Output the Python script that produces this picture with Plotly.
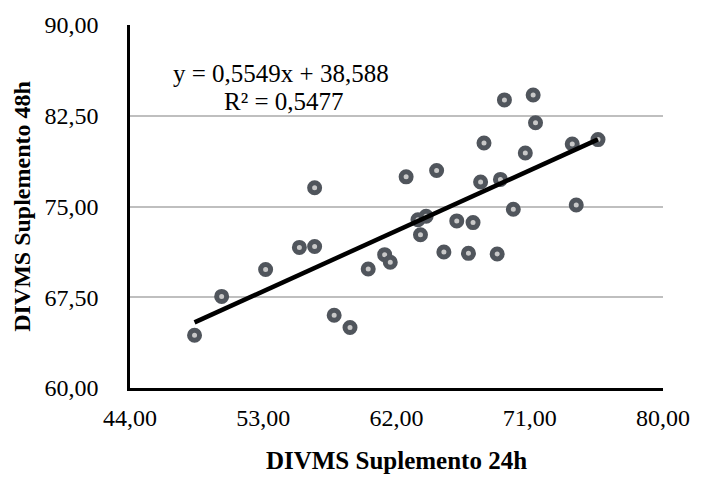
import plotly.graph_objects as go

# Data
x_24h = [48.36, 50.19, 53.16, 55.44, 56.47, 56.47, 57.79, 58.86, 60.09, 61.20,
         61.58, 62.65, 63.62, 63.45, 64.00, 64.71, 65.20, 66.07, 67.17, 66.86,
         67.68, 67.91, 68.80, 69.02, 69.29, 69.89, 70.70, 71.23, 71.39, 73.87,
         74.14, 75.61]
y_48h = [64.36, 67.57, 69.79, 71.62, 71.70, 76.55, 66.01, 65.00, 69.84, 71.02,
         70.39, 77.45, 72.66, 73.90, 74.20, 77.98, 71.24, 73.81, 73.67, 71.13,
         77.02, 80.25, 71.08, 77.24, 83.81, 74.77, 79.42, 84.22, 81.92, 80.16,
         75.13, 80.53]

slope = 0.5549
intercept = 38.588
r2 = 0.5477

x_ticks = [44, 53, 62, 71, 80]
x_tick_labels = ["44,00", "53,00", "62,00", "71,00", "80,00"]
y_ticks = [60, 67.5, 75, 82.5, 90]
y_tick_labels = ["60,00", "67,50", "75,00", "82,50", "90,00"]

FONT = "Liberation Serif, Times New Roman, serif"

fig = go.Figure()

fig.add_trace(go.Scatter(
    x=x_24h, y=y_48h, mode="markers",
    marker=dict(symbol="circle", size=10, color="#c8c8c8",
                line=dict(color="#50555c", width=5)),
    showlegend=False, hoverinfo="x+y",
))

x_line = [min(x_24h), max(x_24h)]
y_line = [slope * v + intercept for v in x_line]
fig.add_trace(go.Scatter(
    x=x_line, y=y_line, mode="lines",
    line=dict(color="#000000", width=4.5),
    showlegend=False, hoverinfo="skip",
))

eq_line1 = ("y = " + f"{slope:.4f}".replace(".", ",") + "x + "
            + f"{intercept:.3f}".replace(".", ","))
eq_line2 = "R² = " + f"{r2:.4f}".replace(".", ",")

fig.add_annotation(
    text=eq_line1, xref="paper", yref="paper", x=0.283, y=0.866,
    xanchor="center", yanchor="middle", showarrow=False,
    font=dict(family=FONT, size=25, color="#000000"),
)
fig.add_annotation(
    text=eq_line2, xref="paper", yref="paper", x=0.288, y=0.789,
    xanchor="center", yanchor="middle", showarrow=False,
    font=dict(family=FONT, size=25, color="#000000"),
)

fig.update_layout(
    width=702, height=483,
    margin=dict(l=130, r=34, t=23, b=95),
    paper_bgcolor="white", plot_bgcolor="white",
    font=dict(family=FONT, size=24, color="#000000"),
    xaxis=dict(
        range=[44, 80], tickvals=x_ticks, ticktext=x_tick_labels,
        showgrid=False, zeroline=False,
        showline=True, linecolor="#000000", linewidth=2.5,
        ticks="", ticklabelstandoff=6,
        tickfont=dict(family=FONT, size=24, color="#000000"),
        title=dict(text="<b>DIVMS Suplemento 24h</b>", standoff=22,
                   font=dict(family=FONT, size=25, color="#000000")),
    ),
    yaxis=dict(
        range=[60, 90], tickvals=y_ticks, ticktext=y_tick_labels,
        showgrid=True, gridcolor="#bfbfbf", gridwidth=2, zeroline=False,
        showline=True, linecolor="#000000", linewidth=2.5,
        ticks="", ticklabelstandoff=24,
        tickfont=dict(family=FONT, size=24, color="#000000"),
        title=dict(text="<b>DIVMS Suplemento 48h</b>", standoff=8,
                   font=dict(family=FONT, size=24, color="#000000")),
    ),
)

fig.write_html("out.html")
